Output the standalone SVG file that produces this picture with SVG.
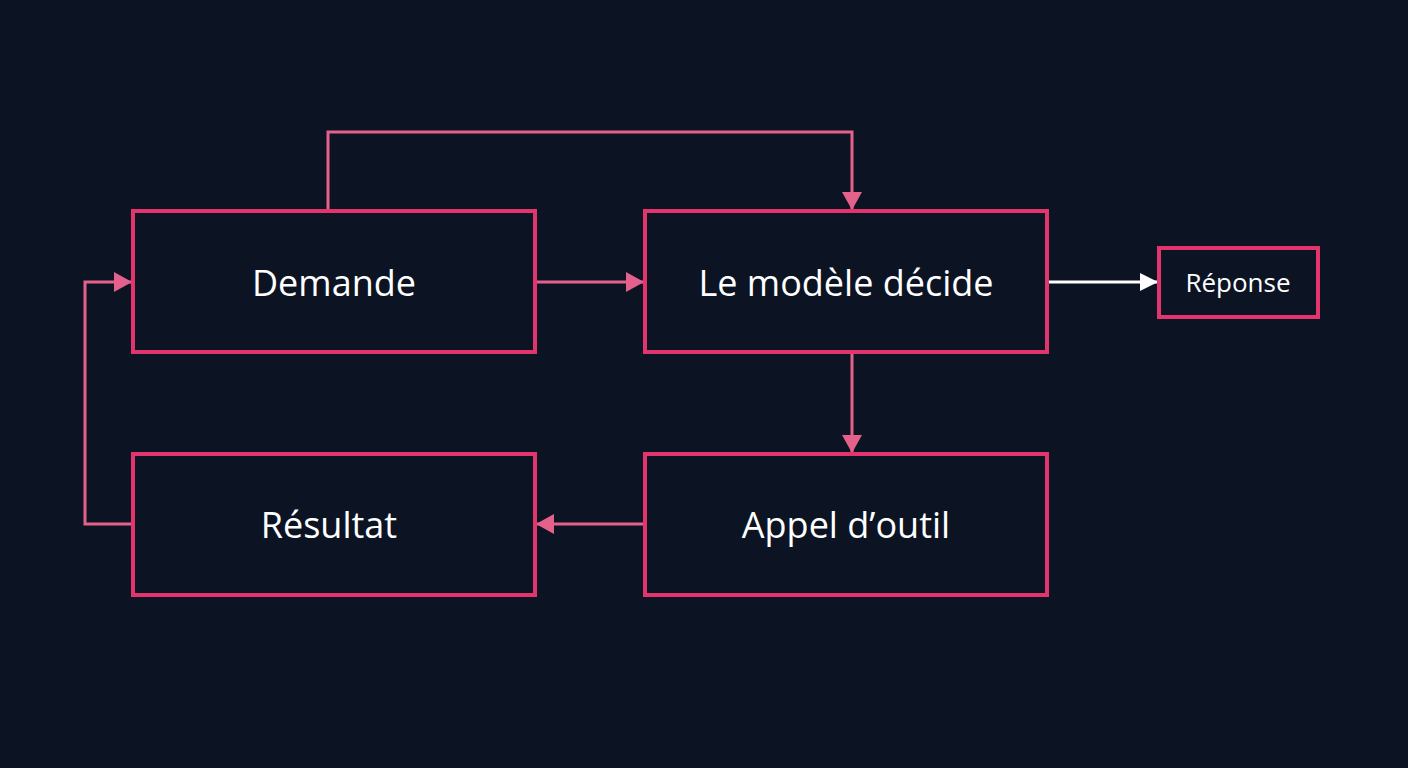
<svg xmlns="http://www.w3.org/2000/svg" width="1408" height="768" viewBox="0 0 1408 768">
<defs>
<style>
.box{fill:#0c1424;stroke:#e2356e;stroke-width:4}
.lbl{fill:#ffffff;font-family:"Open Sans","Noto Sans",sans-serif;font-size:36px;text-anchor:middle;dominant-baseline:central}
.c{fill:none;stroke:#e4618c;stroke-width:3}
</style>
<marker id="ap" markerWidth="10" markerHeight="10" refX="9" refY="5" orient="auto" markerUnits="userSpaceOnUse" viewBox="0 0 10 10"><path d="M0,0 L10,5 L0,10 z" fill="#e4618c" transform="scale(1)"/></marker>
<marker id="aw" markerWidth="18" markerHeight="18" refX="17" refY="9" orient="auto" markerUnits="userSpaceOnUse"><path d="M0,0 L18,9 L0,18 z" fill="#ffffff"/></marker>
<marker id="ap2" markerWidth="18" markerHeight="20" refX="17" refY="10" orient="auto" markerUnits="userSpaceOnUse"><path d="M0,0 L18,10 L0,20 z" fill="#e4618c"/></marker>
</defs>
<rect width="1408" height="768" fill="#0c1424"/>
<g id="connectors">
<path class="c" d="M328,209 V132 H852 V209" marker-end="url(#ap2)"/>
<path class="c" d="M537,282 H643" marker-end="url(#ap2)"/>
<path d="M1049,282 H1157" fill="none" stroke="#ffffff" stroke-width="3" marker-end="url(#aw)"/>
<path class="c" d="M852,354 V452" marker-end="url(#ap2)"/>
<path class="c" d="M643,524 H537" marker-end="url(#ap2)"/>
<path class="c" d="M131,524 H85 V282 H131" marker-end="url(#ap2)"/>
</g>
<g id="demande"><rect class="box" x="133" y="211" width="402" height="141"/><text class="lbl" x="334" y="282">Demande</text></g>
<g id="modele"><rect class="box" x="645" y="211" width="402" height="141"/><text class="lbl" x="846" y="282">Le modèle décide</text></g>
<g id="reponse"><rect class="box" x="1159" y="248" width="159" height="69"/><text class="lbl" x="1238" y="282" style="font-size:26px">Réponse</text></g>
<g id="resultat"><rect class="box" x="133" y="454" width="402" height="141"/><text class="lbl" x="329" y="524">Résultat</text></g>
<g id="appel"><rect class="box" x="645" y="454" width="402" height="141"/><text class="lbl" x="846" y="524">Appel d’outil</text></g>
</svg>
